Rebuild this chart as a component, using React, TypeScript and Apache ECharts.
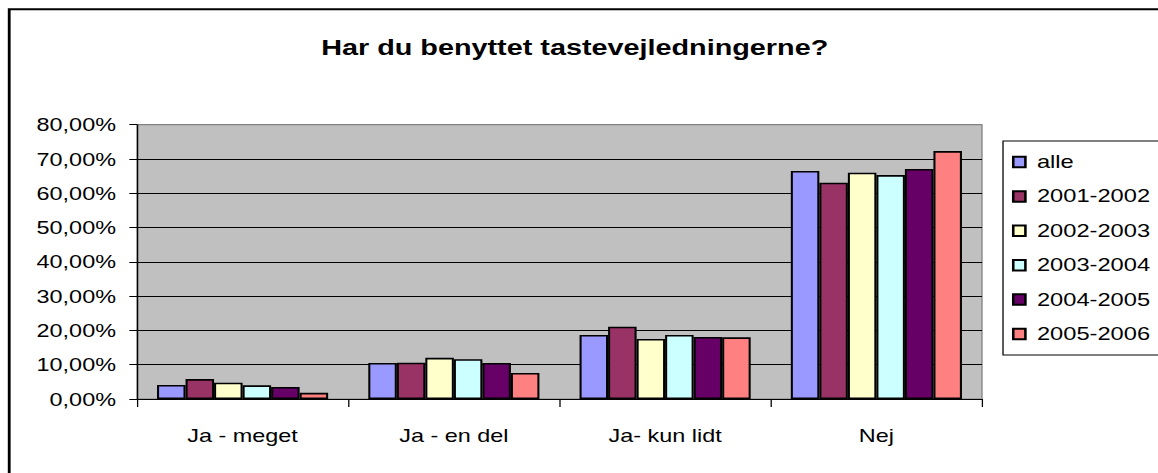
import React, { useEffect, useRef } from "react";
import * as echarts from "echarts";

const categories = ["Ja - meget", "Ja - en del", "Ja- kun lidt", "Nej"];
const seriesNames = ["alle", "2001-2002", "2002-2003", "2003-2004", "2004-2005", "2005-2006"];
const alle = [4.1, 10.5, 18.7, 66.5];
const y2001 = [5.8, 10.6, 21.1, 63.1];
const y2002 = [4.75, 12.0, 17.5, 66.0];
const y2003 = [4.0, 11.6, 18.7, 65.3];
const y2004 = [3.5, 10.5, 18.1, 67.1];
const y2005 = [1.8, 7.6, 18.0, 72.3];
const seriesValues = [alle, y2001, y2002, y2003, y2004, y2005];
const colors = ["#9999FF", "#993366", "#FFFFCC", "#CCFFFF", "#660066", "#FF8080"];
const titleText = "Har du benyttet tastevejledningerne?";

const S = 1.28;
const W = 960;
const H = 473;
const FONT = "'Liberation Sans', Arial, sans-serif";

export default function App() {
  const ref = useRef<HTMLDivElement>(null);
  useEffect(() => {
    document.body.style.overflow = "hidden";
    document.documentElement.style.overflow = "hidden";
    const chart = echarts.init(ref.current!, null, { renderer: "svg" });
    const splitColors = ["#000", "#000", "#000", "#000", "#000", "#000", "#000", "#000", "#808080"];
    chart.setOption({
      animation: false,
      backgroundColor: "#ffffff",
      textStyle: { fontFamily: FONT },
      title: {
        text: titleText,
        left: 449,
        textAlign: "center",
        top: 36,
        padding: 0,
        textStyle: { fontFamily: FONT, fontWeight: "bold", fontSize: 22.5, color: "#000", lineHeight: 22 },
      },
      graphic: [
        {
          type: "rect",
          shape: { x: 7.2, y: 9.25, width: 1200, height: 600 },
          style: { fill: "none", stroke: "#000", lineWidth: 2.2 },
          silent: true,
          z: 100,
        },
      ],
      legend: {
        orient: "vertical",
        left: 783.6,
        top: 141,
        padding: [11, 30, 11, 7],
        itemGap: 14.4,
        itemWidth: 9.5,
        itemHeight: 10.5,
        backgroundColor: "#fff",
        borderColor: "#000",
        borderWidth: 1,
        borderRadius: 0,
        data: seriesNames.map((n) => ({ name: n, icon: "rect" })),
        textStyle: { fontFamily: FONT, fontSize: 18.5, color: "#000", lineHeight: 20, padding: [0, 0, 0, 4] },
      },
      grid: {
        left: 107,
        right: W - 767.2,
        top: 124.7,
        bottom: H - 399,
        show: true,
        backgroundColor: "#C0C0C0",
        borderColor: "#808080",
        borderWidth: 1,
        containLabel: false,
      },
      xAxis: {
        type: "category",
        data: categories,
        axisLine: { show: true, lineStyle: { color: "#000", width: 1 } },
        axisTick: { show: true, length: 8, lineStyle: { color: "#000" } },
        axisLabel: { margin: 27, fontSize: 18.3, color: "#000", fontFamily: FONT, lineHeight: 18.3 },
      },
      yAxis: {
        type: "value",
        min: 0,
        max: 80,
        interval: 10,
        axisLine: { show: true, lineStyle: { color: "#000", width: 1 } },
        axisTick: { show: true, length: 6, lineStyle: { color: "#000" } },
        splitLine: { show: true, lineStyle: { color: splitColors, width: 1 } },
        axisLabel: {
          margin: 16.4,
          fontSize: 18.3,
          color: "#000",
          fontFamily: FONT,
          formatter: (v: number) => v.toFixed(2).replace(".", ",") + "%",
        },
      },
      series: seriesNames.map((name, i) => ({
        name,
        type: "bar",
        data: seriesValues[i],
        barGap: "0%",
        barCategoryGap: "19%",
        itemStyle: { color: colors[i], borderColor: "#000", borderWidth: 1.6 },
      })),
    });
    return () => chart.dispose();
  }, []);
  return (
    <div
      ref={ref}
      style={{
        position: "absolute",
        left: 0,
        top: 0,
        width: W + "px",
        height: H + "px",
        transform: `scaleX(${S})`,
        transformOrigin: "0 0",
      }}
    />
  );
}
